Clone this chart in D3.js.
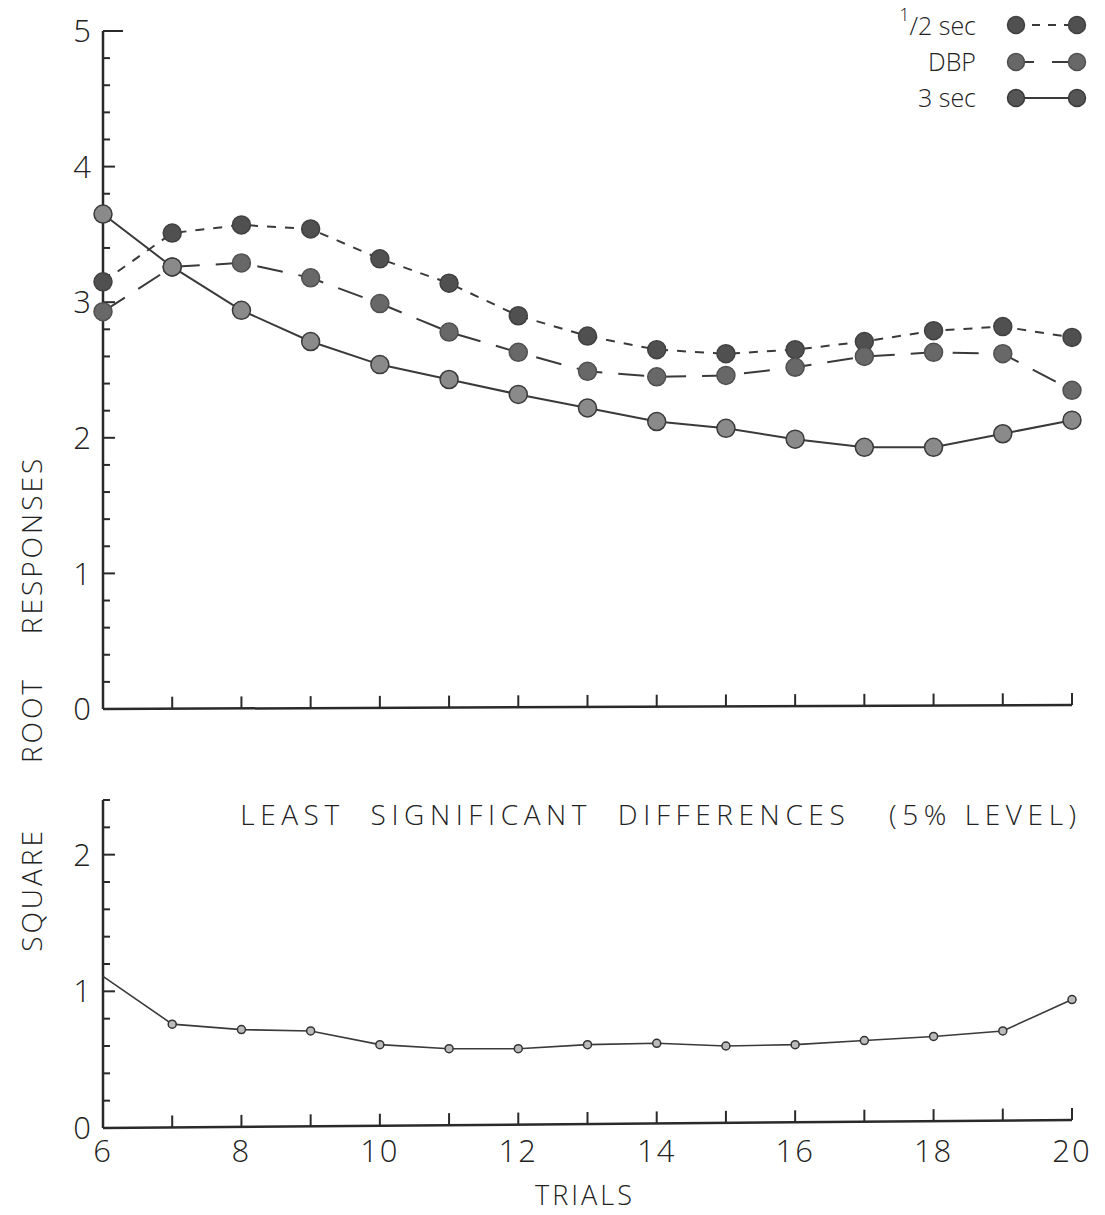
<!DOCTYPE html>
<html><head><meta charset="utf-8">
<script src="https://cdn.jsdelivr.net/npm/d3@7/dist/d3.min.js"></script>
<style>
body{margin:0;background:#fff;}
text{font-family:"Open Sans","Liberation Sans",sans-serif;fill:#222;font-weight:300;}
</style></head>
<body><svg id="c" width="1105" height="1215"></svg>
<script>
const trials = [6,7,8,9,10,11,12,13,14,15,16,17,18,19,20];
const halfSec = [3.15,3.51,3.57,3.54,3.32,3.14,2.90,2.75,2.65,2.62,2.65,2.71,2.79,2.82,2.74];
const dbp     = [2.93,3.26,3.29,3.18,2.99,2.78,2.63,2.49,2.45,2.46,2.52,2.60,2.63,2.62,2.35];
const threeSec= [3.65,3.26,2.94,2.71,2.54,2.43,2.32,2.22,2.12,2.07,1.99,1.93,1.93,2.03,2.13];
const lsd     = [1.11,0.76,0.72,0.71,0.61,0.58,0.58,0.61,0.62,0.60,0.61,0.64,0.67,0.71,0.94];
const xTickLabels = [6,8,10,12,14,16,18,20];
const topYTicks = [0,1,2,3,4,5];
const botYTicks = [0,1,2];
const legendLabels = ["1/2 sec","DBP","3 sec"];

const svg = d3.select("#c");
const x = d3.scaleLinear().domain([6,20]).range([103,1072]);
const yT = d3.scaleLinear().domain([0,5]).range([709,31]);
const yB = d3.scaleLinear().domain([0,2.4]).range([1128,800]);
const ink = "#2a2a2a";

// ---- Upper panel axes
svg.append("line").attr("x1",x(6)).attr("x2",x(6)).attr("y1",yT(5)).attr("y2",yT(0)).attr("stroke",ink).attr("stroke-width",2.5);
svg.append("line").attr("x1",x(6)).attr("x2",x(20)).attr("y1",yT(0)).attr("y2",yT(0)-4).attr("stroke",ink).attr("stroke-width",2.5);
const topMinor = d3.range(0,5.01,0.2);
svg.selectAll(".tmin").data(topMinor).join("line")
  .attr("x1",x(6)).attr("x2",d=> Math.abs(d-5)<1e-6 ? x(6)+20 : (Math.abs(d-Math.round(d))<1e-6 ? x(6)+12 : x(6)+7))
  .attr("y1",d=>yT(d)).attr("y2",d=>yT(d)).attr("stroke",ink).attr("stroke-width",2);
svg.selectAll(".tlab").data(topYTicks).join("text")
  .attr("x",x(6)-12).attr("y",d=>yT(d)).attr("dy","0.36em").attr("text-anchor","end")
  .attr("font-size",31).text(d=>d);
svg.selectAll(".txt").data(trials.slice(1)).join("line")
  .attr("x1",d=>x(d)).attr("x2",d=>x(d)).attr("y1",d=>yT(0)-4*(d-6)/14).attr("y2",d=>yT(0)-4*(d-6)/14-12)
  .attr("stroke",ink).attr("stroke-width",2);

// ---- Upper lines
const lineT = d3.line().x((d,i)=>x(trials[i])).y(d=>yT(d));
const series = [
  {vals:halfSec, dash:"9,9", fill:"#505050", stroke:"#404040"},
  {vals:dbp, dash:"26,16", fill:"#686868", stroke:"#505050"},
  {vals:threeSec, dash:null, fill:"#8a8a8a", stroke:"#3a3a3a"}
];
series.forEach(s=>{
  svg.append("path").datum(s.vals).attr("d",lineT).attr("fill","none")
    .attr("stroke","#3a3a3a").attr("stroke-width",2).attr("stroke-dasharray",s.dash);
});
series.forEach(s=>{
  svg.selectAll(null).data(s.vals).join("circle")
    .attr("cx",(d,i)=>x(trials[i])).attr("cy",d=>yT(d)).attr("r",9)
    .attr("fill",s.fill).attr("stroke",s.stroke).attr("stroke-width",1.5);
});

// ---- Legend
const legY = [25,62,98];
legendLabels.forEach((lab,i)=>{
  const t = svg.append("text").attr("x",976).attr("y",legY[i]).attr("dy","0.36em").attr("text-anchor","end").attr("font-size",25);
  if(i===0){
    t.append("tspan").attr("font-size",18).attr("dy","-0.2em").text("1");
    t.append("tspan").attr("dy","0.55em").text("/2 sec");
  } else t.text(lab);
  const s = series[i];
  svg.append("line").attr("x1",1016).attr("x2",1077).attr("y1",legY[i]).attr("y2",legY[i])
    .attr("stroke","#3a3a3a").attr("stroke-width",2).attr("stroke-dasharray", i===0?"8,8":(i===1?"18,18":null));
  [1016,1077].forEach(cx=>svg.append("circle").attr("cx",cx).attr("cy",legY[i]).attr("r",8.5)
    .attr("fill",i===2?"#555":s.fill).attr("stroke",s.stroke).attr("stroke-width",1.5));
});

// ---- Lower panel axes
svg.append("line").attr("x1",x(6)).attr("x2",x(6)).attr("y1",yB(2.4)).attr("y2",yB(0)).attr("stroke",ink).attr("stroke-width",2.5);
svg.append("line").attr("x1",x(6)).attr("x2",x(20)).attr("y1",yB(0)).attr("y2",yB(0)-8).attr("stroke",ink).attr("stroke-width",2.5);
const botMinor = d3.range(0,2.41,0.2);
svg.selectAll(".bmin").data(botMinor).join("line")
  .attr("x1",x(6)).attr("x2",d=> Math.abs(d-Math.round(d))<1e-6 ? x(6)+12 : x(6)+7)
  .attr("y1",d=>yB(d)).attr("y2",d=>yB(d)).attr("stroke",ink).attr("stroke-width",2);
svg.selectAll(".blab").data(botYTicks).join("text")
  .attr("x",x(6)-12).attr("y",d=>yB(d)).attr("dy","0.36em").attr("text-anchor","end")
  .attr("font-size",31).text(d=>d);
svg.selectAll(".bxt").data(trials.slice(1)).join("line")
  .attr("x1",d=>x(d)).attr("x2",d=>x(d)).attr("y1",d=>yB(0)-8*(d-6)/14).attr("y2",d=>yB(0)-8*(d-6)/14-12)
  .attr("stroke",ink).attr("stroke-width",2);
svg.selectAll(".xlab").data(xTickLabels).join("text")
  .attr("x",d=>x(d)).attr("y",1162).attr("text-anchor","middle").attr("font-size",31).attr("letter-spacing",2).text(d=>d);

const lineB = d3.line().x((d,i)=>x(trials[i])).y(d=>yB(d));
svg.append("path").datum(lsd).attr("d",lineB).attr("fill","none").attr("stroke","#3a3a3a").attr("stroke-width",1.6);
svg.selectAll(".lsdpt").data(lsd.slice(1)).join("circle")
  .attr("cx",(d,i)=>x(trials[i+1])).attr("cy",d=>yB(d)).attr("r",4)
  .attr("fill","#bbb").attr("stroke","#333").attr("stroke-width",1.5);

// ---- Titles
svg.append("text").attr("x",661).attr("y",825).attr("text-anchor","middle").attr("font-size",28)
  .attr("letter-spacing",5.6).attr("xml:space","preserve").text("LEAST  SIGNIFICANT  DIFFERENCES   (5% LEVEL)");
svg.append("text").attr("x",585).attr("y",1205).attr("text-anchor","middle").attr("font-size",27)
  .attr("letter-spacing",3).text("TRIALS");
[["RESPONSES",545],["ROOT",720],["SQUARE",890]].forEach(([t,cy])=>{
  svg.append("text").attr("transform",`translate(42,${cy}) rotate(-90)`).attr("text-anchor","middle")
    .attr("font-size",28).attr("letter-spacing",3).text(t);
});
</script></body></html>
